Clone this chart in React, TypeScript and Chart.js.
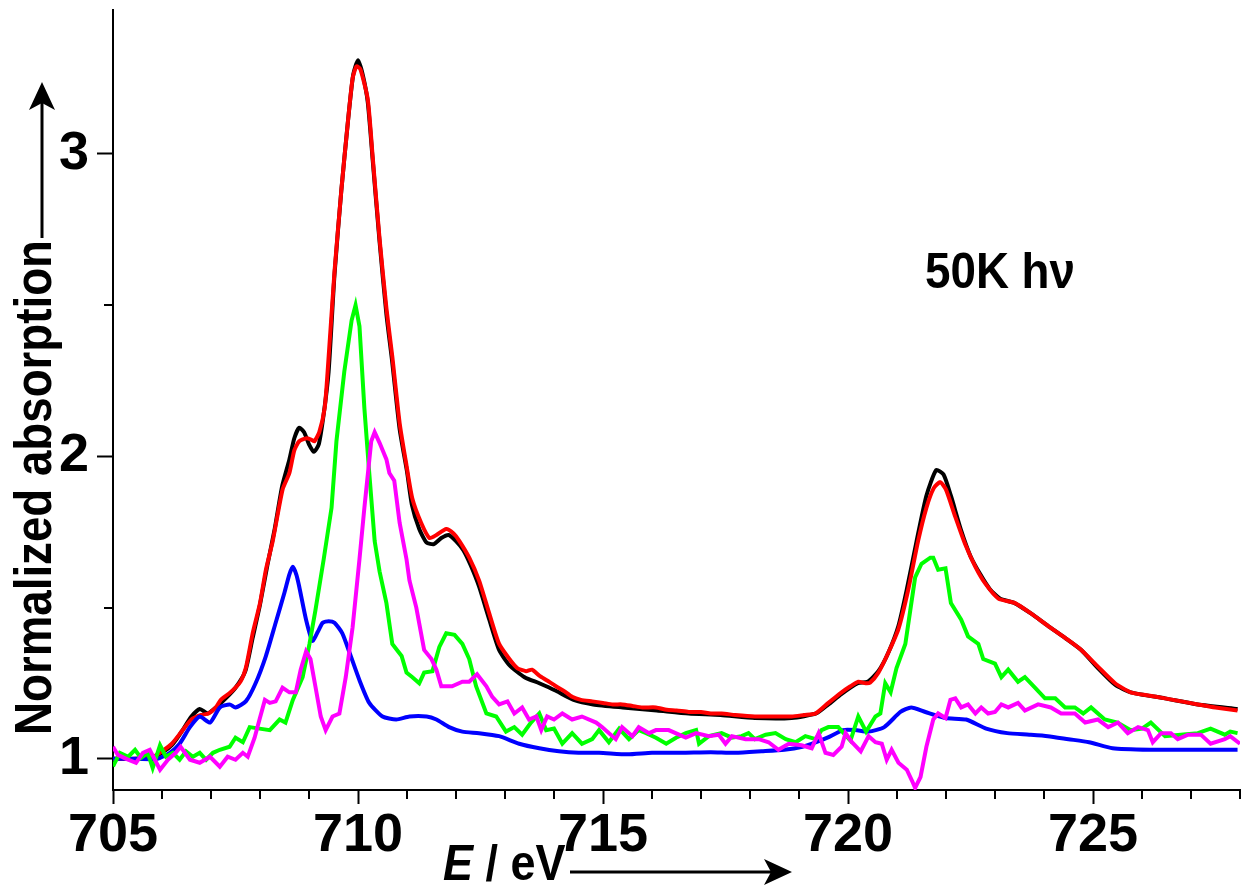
import { useEffect, useRef } from "react";
import { Chart, registerables } from "chart.js";

Chart.register(...registerables);

// Energy (eV) / normalized absorption pairs
const blackCurve: [number, number][] = [
  [705, 1.0], [705.5, 1.0], [705.8, 1.005], [706.0, 1.02], [706.2, 1.045], [706.4, 1.09], [706.6, 1.14],
  [706.77, 1.165], [706.93, 1.15], [707.1, 1.17], [707.3, 1.2], [707.5, 1.235], [707.7, 1.29], [707.85, 1.4],
  [708.0, 1.51], [708.15, 1.64], [708.3, 1.76], [708.45, 1.9], [708.6, 1.99], [708.7, 2.06], [708.8, 2.095],
  [708.9, 2.08], [709.0, 2.04], [709.1, 2.015], [709.2, 2.04], [709.3, 2.14], [709.4, 2.28], [709.52, 2.6],
  [709.66, 2.88], [709.79, 3.1], [709.9, 3.26], [710.0, 3.31], [710.1, 3.26], [710.2, 3.17], [710.3, 2.98],
  [710.44, 2.71], [710.58, 2.47], [710.7, 2.31], [710.85, 2.09], [711.0, 1.95], [711.1, 1.84], [711.25, 1.76],
  [711.4, 1.715], [711.55, 1.71], [711.7, 1.73], [711.85, 1.74], [712.0, 1.72], [712.15, 1.69], [712.3, 1.64],
  [712.47, 1.57], [712.68, 1.46], [712.88, 1.36], [713.09, 1.31], [713.4, 1.27], [713.7, 1.25], [714.04, 1.225],
  [714.4, 1.195], [714.8, 1.18], [715.4, 1.17], [716.1, 1.16], [716.75, 1.15], [717.4, 1.145], [718.1, 1.135],
  [718.85, 1.135], [719.35, 1.15], [719.6, 1.18], [719.87, 1.215], [720.2, 1.25], [720.4, 1.255], [720.62, 1.29],
  [720.82, 1.35], [721.03, 1.44], [721.2, 1.56], [721.4, 1.72], [721.6, 1.87], [721.8, 1.955], [721.95, 1.94],
  [722.1, 1.87], [722.3, 1.76], [722.5, 1.67], [722.7, 1.61], [722.9, 1.56], [723.1, 1.53], [723.4, 1.515],
  [723.74, 1.48], [724.08, 1.44], [724.43, 1.4], [724.76, 1.36], [725.1, 1.3], [725.45, 1.245], [725.77, 1.22],
  [726.47, 1.2], [727.14, 1.18], [727.95, 1.165],
];

const redCurve: [number, number][] = [
  [705, 1.0], [705.5, 1.0], [705.8, 1.005], [706.0, 1.025], [706.2, 1.05], [706.4, 1.09], [706.6, 1.13],
  [706.8, 1.145], [706.95, 1.15], [707.1, 1.17], [707.2, 1.195], [707.4, 1.22], [707.6, 1.255], [707.71, 1.3],
  [707.85, 1.415], [708.0, 1.515], [708.12, 1.625], [708.26, 1.72], [708.46, 1.89], [708.6, 1.945], [708.7, 2.02],
  [708.8, 2.05], [708.95, 2.06], [709.05, 2.055], [709.11, 2.05], [709.21, 2.08], [709.32, 2.16], [709.38, 2.28],
  [709.52, 2.61], [709.66, 2.88], [709.79, 3.1], [709.89, 3.25], [709.97, 3.29], [710.05, 3.28], [710.2, 3.18],
  [710.3, 2.99], [710.44, 2.72], [710.58, 2.49], [710.7, 2.33], [710.85, 2.11], [710.99, 1.97], [711.11, 1.86],
  [711.29, 1.78], [711.46, 1.73], [711.6, 1.74], [711.8, 1.76], [711.95, 1.745], [712.07, 1.72], [712.27, 1.665],
  [712.47, 1.59], [712.68, 1.48], [712.88, 1.38], [713.09, 1.33], [713.25, 1.3], [713.43, 1.29], [713.55, 1.295],
  [713.7, 1.275], [713.85, 1.26], [714.04, 1.24], [714.2, 1.225], [714.37, 1.205], [714.55, 1.195], [714.78, 1.19],
  [715.0, 1.185], [715.2, 1.18], [715.39, 1.18], [715.6, 1.175], [715.8, 1.17], [716.08, 1.17], [716.3, 1.162],
  [716.5, 1.16], [716.75, 1.155], [717.0, 1.155], [717.2, 1.15], [717.42, 1.15], [717.7, 1.145], [718.1, 1.14],
  [718.4, 1.14], [718.85, 1.14], [719.1, 1.145], [719.34, 1.15], [719.6, 1.185], [719.87, 1.22], [720.05, 1.24],
  [720.21, 1.255], [720.36, 1.25], [720.45, 1.252], [720.62, 1.285], [720.82, 1.35], [721.03, 1.43], [721.23, 1.56],
  [721.43, 1.72], [721.6, 1.83], [721.75, 1.895], [721.88, 1.915], [722.0, 1.89], [722.19, 1.8], [722.39, 1.71],
  [722.6, 1.635], [722.8, 1.58], [723.07, 1.53], [723.41, 1.515], [723.74, 1.48], [724.08, 1.44], [724.43, 1.4],
  [724.76, 1.36], [725.1, 1.305], [725.45, 1.25], [725.77, 1.22], [726.1, 1.21], [726.47, 1.2], [726.8, 1.19],
  [727.14, 1.18], [727.5, 1.17], [727.95, 1.16],
];

const blueCurve: [number, number][] = [
  [705, 1.0], [705.5, 1.0], [705.9, 1.0], [706.16, 1.02], [706.36, 1.05], [706.57, 1.105], [706.77, 1.14],
  [706.98, 1.12], [707.18, 1.17], [707.38, 1.18], [707.5, 1.17], [707.71, 1.19], [707.91, 1.25], [708.12, 1.34],
  [708.32, 1.45], [708.5, 1.55], [708.6, 1.61], [708.67, 1.635], [708.74, 1.61], [708.8, 1.57], [708.94, 1.46],
  [709.07, 1.39], [709.18, 1.42], [709.28, 1.45], [709.4, 1.455], [709.52, 1.45], [709.68, 1.415], [709.83, 1.35],
  [710.03, 1.26], [710.23, 1.185], [710.5, 1.14], [710.78, 1.13], [711.05, 1.14], [711.4, 1.14], [711.6, 1.13],
  [711.86, 1.105], [712.13, 1.09], [712.47, 1.085], [712.88, 1.075], [713.29, 1.05], [713.7, 1.035], [714.1, 1.025],
  [714.5, 1.02], [714.92, 1.02], [715.5, 1.015], [716.0, 1.02], [716.6, 1.02], [717.2, 1.022], [717.7, 1.02],
  [718.24, 1.025], [718.7, 1.03], [719.07, 1.04], [719.35, 1.055], [719.58, 1.07], [719.9, 1.095], [720.15, 1.095],
  [720.42, 1.09], [720.74, 1.105], [721.07, 1.155], [721.29, 1.17], [721.58, 1.155], [721.99, 1.135], [722.41, 1.13],
  [722.82, 1.1], [723.25, 1.085], [723.7, 1.08], [724.08, 1.075], [724.5, 1.065], [724.92, 1.055], [725.4, 1.035],
  [726.16, 1.03], [727.0, 1.03], [727.95, 1.03],
];

const greenCurve: [number, number][] = [
  [705, 0.975], [705.14, 1.02], [705.31, 1.007], [705.45, 1.03], [705.57, 1.003], [705.71, 1.02], [705.81, 0.97],
  [705.96, 1.045], [706.08, 1.007], [706.22, 1.02], [706.36, 0.997], [706.49, 1.025], [706.63, 1.007], [706.77, 1.02],
  [706.9, 0.997], [707.04, 1.02], [707.18, 1.03], [707.38, 1.04], [707.5, 1.07], [707.65, 1.055], [707.79, 1.105],
  [707.99, 1.1], [708.2, 1.095], [708.4, 1.13], [708.52, 1.12], [708.67, 1.195], [708.87, 1.27], [709.01, 1.38],
  [709.13, 1.49], [709.3, 1.66], [709.46, 1.83], [709.56, 2.05], [709.72, 2.28], [709.87, 2.45], [709.95, 2.5],
  [710.03, 2.43], [710.13, 2.16], [710.23, 1.945], [710.34, 1.72], [710.44, 1.62], [710.58, 1.515], [710.7, 1.38],
  [710.89, 1.34], [710.99, 1.285], [711.11, 1.27], [711.25, 1.25], [711.35, 1.285], [711.52, 1.29], [711.66, 1.37],
  [711.8, 1.415], [711.97, 1.41], [712.13, 1.38], [712.27, 1.33], [712.41, 1.24], [712.62, 1.15], [712.82, 1.14],
  [713.02, 1.09], [713.19, 1.105], [713.35, 1.08], [713.53, 1.12], [713.7, 1.15], [713.84, 1.095], [714.0, 1.1],
  [714.17, 1.05], [714.37, 1.085], [714.57, 1.05], [714.78, 1.065], [714.92, 1.095], [715.12, 1.055], [715.33, 1.1],
  [715.53, 1.065], [715.73, 1.095], [715.88, 1.085], [716.08, 1.07], [716.29, 1.05], [716.49, 1.07], [716.69, 1.085],
  [716.9, 1.095], [716.96, 1.05], [717.16, 1.075], [717.42, 1.085], [717.63, 1.07], [717.83, 1.075], [717.97, 1.085],
  [718.1, 1.065], [718.32, 1.08], [718.52, 1.085], [718.73, 1.065], [718.93, 1.055], [719.13, 1.075], [719.34, 1.065],
  [719.46, 1.095], [719.6, 1.105], [719.8, 1.105], [720.05, 1.06], [720.21, 1.14], [720.37, 1.09], [720.56, 1.14],
  [720.66, 1.15], [720.76, 1.25], [720.87, 1.22], [720.99, 1.3], [721.17, 1.38], [721.27, 1.49], [721.37, 1.6],
  [721.5, 1.645], [721.68, 1.665], [721.74, 1.665], [721.84, 1.625], [721.99, 1.63], [722.1, 1.515], [722.31, 1.46],
  [722.45, 1.405], [722.66, 1.38], [722.76, 1.33], [723.0, 1.315], [723.13, 1.27], [723.27, 1.295], [723.47, 1.255],
  [723.61, 1.27], [723.82, 1.235], [724.02, 1.2], [724.23, 1.2], [724.43, 1.17], [724.63, 1.17], [724.8, 1.15],
  [724.96, 1.17], [725.24, 1.13], [725.5, 1.12], [725.77, 1.095], [726.0, 1.1], [726.18, 1.12], [726.47, 1.075],
  [726.79, 1.08], [727.14, 1.085], [727.4, 1.1], [727.69, 1.08], [727.8, 1.09], [727.95, 1.085],
];

const magentaCurve: [number, number][] = [
  [705, 1.04], [705.1, 1.013], [705.27, 1.0], [705.47, 0.987], [705.61, 1.02], [705.75, 1.03], [705.96, 0.964],
  [706.12, 0.997], [706.28, 1.02], [706.38, 1.04], [706.57, 0.997], [706.77, 0.987], [706.98, 1.007], [707.18, 0.974],
  [707.34, 1.007], [707.5, 0.997], [707.65, 1.02], [707.75, 1.007], [707.89, 1.07], [707.99, 1.13], [708.1, 1.195],
  [708.2, 1.185], [708.32, 1.19], [708.46, 1.235], [708.6, 1.22], [708.73, 1.22], [708.83, 1.295], [708.94, 1.355],
  [709.03, 1.33], [709.13, 1.24], [709.24, 1.14], [709.34, 1.095], [709.48, 1.14], [709.62, 1.15], [709.75, 1.27],
  [709.89, 1.435], [710.03, 1.66], [710.13, 1.83], [710.27, 2.05], [710.34, 2.08], [710.44, 2.045], [710.58, 1.99],
  [710.64, 1.945], [710.74, 1.92], [710.85, 1.78], [710.99, 1.66], [711.05, 1.59], [711.19, 1.5], [711.35, 1.36],
  [711.5, 1.33], [711.6, 1.295], [711.7, 1.24], [711.92, 1.24], [712.13, 1.255], [712.27, 1.255], [712.43, 1.28],
  [712.62, 1.24], [712.74, 1.205], [712.88, 1.18], [713.05, 1.19], [713.19, 1.15], [713.35, 1.17], [713.49, 1.13],
  [713.64, 1.14], [713.74, 1.095], [713.86, 1.14], [714.0, 1.13], [714.17, 1.15], [714.37, 1.13], [714.57, 1.14],
  [714.86, 1.12], [714.98, 1.105], [715.26, 1.065], [715.39, 1.105], [715.6, 1.075], [715.73, 1.105], [715.94, 1.085],
  [716.08, 1.095], [716.34, 1.095], [716.55, 1.08], [716.69, 1.07], [716.9, 1.085], [717.16, 1.075], [717.36, 1.08],
  [717.5, 1.05], [717.63, 1.075], [717.91, 1.065], [718.18, 1.065], [718.38, 1.055], [718.58, 1.03], [718.79, 1.05],
  [719.05, 1.045], [719.26, 1.035], [719.4, 1.085], [719.54, 1.02], [719.7, 1.013], [719.87, 1.04], [719.95, 1.085],
  [720.08, 1.055], [720.26, 1.025], [720.42, 1.075], [720.56, 1.055], [720.69, 1.05], [720.79, 0.997], [720.89, 1.03],
  [721.03, 0.987], [721.2, 0.964], [721.3, 0.93], [721.37, 0.904], [721.48, 0.94], [721.6, 1.04], [721.74, 1.13],
  [721.84, 1.15], [721.99, 1.135], [722.09, 1.195], [722.19, 1.2], [722.31, 1.17], [722.45, 1.18], [722.6, 1.15],
  [722.72, 1.17], [722.86, 1.15], [723.0, 1.155], [723.13, 1.18], [723.27, 1.17], [723.47, 1.185], [723.61, 1.16],
  [723.88, 1.18], [724.14, 1.17], [724.35, 1.15], [724.63, 1.15], [724.84, 1.12], [725.1, 1.13], [725.31, 1.105],
  [725.51, 1.12], [725.71, 1.085], [725.92, 1.105], [726.12, 1.095], [726.22, 1.055], [726.39, 1.085], [726.59, 1.085],
  [726.73, 1.065], [726.94, 1.08], [727.2, 1.08], [727.4, 1.05], [727.69, 1.065], [727.8, 1.075], [728.0, 1.05],
];

const xTickValues = [705, 710, 715, 720, 725];
const yTickValues = [1, 2, 3];
const xMinorTicks = [706, 707, 708, 709, 711, 712, 713, 714, 716, 717, 718, 719, 721, 722, 723, 724, 726, 727, 728];
const yMinorTicks = [1.5, 2.5];
const xRange = [705, 728];
const yRange = [0.897, 3.476];

const yTitle = "Normalized absorption";
const xTitleItalic = "E";
const xTitleRest = " / eV";
const annotation = "50K h\u03bd";

const FONT = '"Liberation Sans", Arial, sans-serif';
const TICK_FONT = '"Liberation Sans Narrow", "Liberation Sans", Arial, sans-serif';

export default function App() {
  const ref = useRef<HTMLCanvasElement>(null);

  useEffect(() => {
    const canvas = ref.current;
    if (!canvas) return;
    const toXY = (a: [number, number][]) => a.map(([x, y]) => ({ x, y }));

    const decor = {
      id: "decor",
      afterDraw(chart: any) {
        const ctx = chart.ctx as CanvasRenderingContext2D;
        const xs = chart.scales.x;
        const ys = chart.scales.y;
        ctx.save();
        ctx.strokeStyle = "#000";
        ctx.fillStyle = "#000";
        ctx.lineWidth = 2;
        // minor ticks
        ctx.beginPath();
        for (const v of xMinorTicks) {
          const px = Math.round(xs.getPixelForValue(v));
          ctx.moveTo(px, xs.top);
          ctx.lineTo(px, xs.top + 9);
        }
        for (const v of yMinorTicks) {
          const py = Math.round(ys.getPixelForValue(v));
          ctx.moveTo(ys.right, py);
          ctx.lineTo(ys.right - 9, py);
        }
        ctx.stroke();

        // y title (rotated)
        ctx.save();
        ctx.translate(51, 735);
        ctx.rotate(-Math.PI / 2);
        ctx.font = `bold 52px ${FONT}`;
        ctx.textAlign = "left";
        ctx.textBaseline = "alphabetic";
        const w = ctx.measureText(yTitle).width;
        ctx.scale(495 / w, 1);
        ctx.fillText(yTitle, 0, 0);
        ctx.restore();

        // y arrow
        ctx.lineWidth = 3;
        ctx.beginPath();
        ctx.moveTo(42, 238);
        ctx.lineTo(42, 100);
        ctx.stroke();
        ctx.beginPath();
        ctx.moveTo(42, 82);
        ctx.lineTo(29, 110);
        ctx.lineTo(42, 103);
        ctx.lineTo(55, 110);
        ctx.closePath();
        ctx.fill();

        // x title
        ctx.save();
        ctx.textBaseline = "alphabetic";
        ctx.textAlign = "left";
        ctx.translate(443, 880);
        ctx.scale(0.9, 1);
        ctx.font = `italic bold 50px ${FONT}`;
        ctx.fillText(xTitleItalic, 0, 0);
        const we = ctx.measureText(xTitleItalic).width;
        ctx.font = `bold 50px ${FONT}`;
        ctx.fillText(xTitleRest, we, 0);
        ctx.restore();

        // x arrow
        ctx.lineWidth = 3;
        ctx.beginPath();
        ctx.moveTo(570, 872);
        ctx.lineTo(772, 872);
        ctx.stroke();
        ctx.beginPath();
        ctx.moveTo(792, 872);
        ctx.lineTo(764, 859);
        ctx.lineTo(771, 872);
        ctx.lineTo(764, 885);
        ctx.closePath();
        ctx.fill();

        // annotation
        ctx.save();
        ctx.translate(925, 288);
        ctx.font = `bold 50px ${FONT}`;
        const wa = ctx.measureText(annotation).width;
        ctx.scale(150 / wa, 1);
        ctx.textBaseline = "alphabetic";
        ctx.textAlign = "left";
        ctx.fillText(annotation, 0, 0);
        ctx.restore();

        ctx.restore();
      },
    };

    const line = (data: [number, number][], color: string, tension: number) => ({
      data: toXY(data),
      borderColor: color,
      backgroundColor: color,
      borderWidth: 4,
      pointRadius: 0,
      tension,
      fill: false,
    });

    const chart = new Chart(canvas, {
      type: "line",
      data: {
        datasets: [
          line(magentaCurve, "#ff00ff", 0),
          line(greenCurve, "#00ff00", 0),
          line(blueCurve, "#0000ff", 0.2),
          line(redCurve, "#ff0000", 0.2),
          line(blackCurve, "#000000", 0.2),
        ],
      },
      options: {
        animation: false,
        responsive: false,
        maintainAspectRatio: false,
        layout: { padding: { top: 10, right: 1, left: 0, bottom: 0 } },
        plugins: { legend: { display: false }, tooltip: { enabled: false } },
        scales: {
          x: {
            type: "linear",
            position: "bottom",
            min: xRange[0],
            max: xRange[1],
            afterBuildTicks: (s: any) => {
              s.ticks = xTickValues.map((v) => ({ value: v }));
            },
            afterFit: (s: any) => {
              s.height = 96;
              s.paddingLeft = 0;
              s.paddingRight = 0;
            },
            grid: {
              display: true,
              drawOnChartArea: false,
              drawTicks: true,
              tickLength: 14,
              tickWidth: 2,
              tickColor: "#000",
            },
            border: { display: true, color: "#000", width: 2 },
            ticks: {
              color: "#000",
              font: { family: TICK_FONT, size: 54, weight: "bold" },
              padding: 0,
              maxRotation: 0,
              autoSkip: false,
            },
          },
          y: {
            type: "linear",
            min: yRange[0],
            max: yRange[1],
            afterBuildTicks: (s: any) => {
              s.ticks = yTickValues.map((v) => ({ value: v }));
            },
            afterFit: (s: any) => {
              s.width = 113;
              s.paddingTop = 0;
              s.paddingBottom = 0;
            },
            grid: {
              display: true,
              drawOnChartArea: false,
              drawTicks: true,
              tickLength: 16,
              tickWidth: 2,
              tickColor: "#000",
            },
            border: { display: true, color: "#000", width: 2 },
            ticks: {
              color: "#000",
              font: { family: TICK_FONT, size: 54, weight: "bold" },
              padding: 8,
              autoSkip: false,
            },
          },
        },
      },
      plugins: [decor],
    } as any);

    return () => chart.destroy();
  }, []);

  return (
    <div style={{ position: "absolute", left: 0, top: 0, width: 1241, height: 886, background: "#fff" }}>
      <canvas ref={ref} width={1241} height={886} />
    </div>
  );
}
